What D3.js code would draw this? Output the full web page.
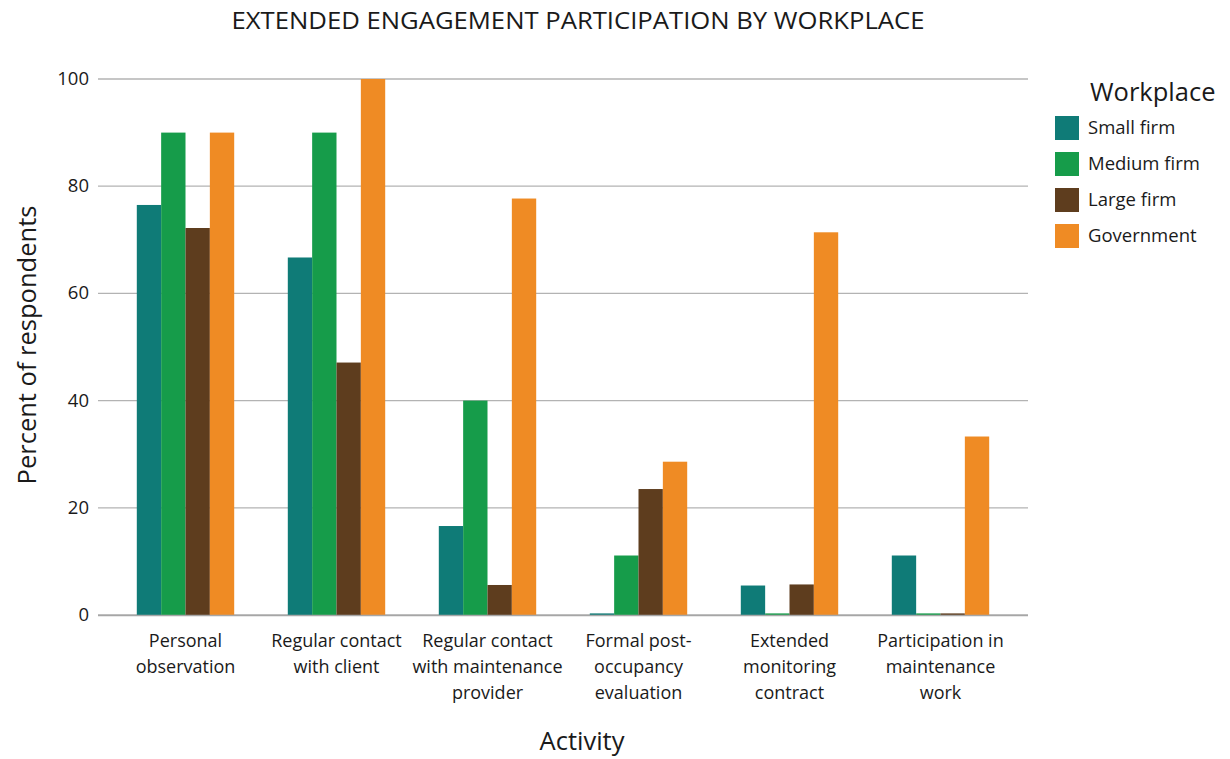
<!DOCTYPE html>
<html><head><meta charset="utf-8">
<script src="https://cdn.jsdelivr.net/npm/d3@7"></script>
<style>body{margin:0;background:#fff}svg{display:block}text{font-family:"Open Sans",sans-serif;fill:#1a1a1a}</style>
</head><body><svg id="c" width="1230" height="759"></svg>
<script>
const categories = [
  ["Personal", "observation"],
  ["Regular contact", "with client"],
  ["Regular contact", "with maintenance", "provider"],
  ["Formal post-", "occupancy", "evaluation"],
  ["Extended", "monitoring", "contract"],
  ["Participation in", "maintenance", "work"]
];
const seriesNames = ["Small firm", "Medium firm", "Large firm", "Government"];
const smallFirm  = [76.5, 66.7, 16.6, 0.3, 5.5, 11.1];
const mediumFirm = [90, 90, 40, 11.1, 0.3, 0.3];
const largeFirm  = [72.2, 47.1, 5.6, 23.5, 5.7, 0.3];
const government = [90, 100, 77.7, 28.6, 71.4, 33.3];
const yTicks = [0, 20, 40, 60, 80, 100];
const colors = ["#0f7b77", "#169c4a", "#5e3d1e", "#ef8b24"];

const series = [smallFirm, mediumFirm, largeFirm, government];
const svg = d3.select("#c");
const x0 = d3.scaleBand().domain(d3.range(categories.length)).range([110, 1016]).padding(0);
const x1 = d3.scaleBand().domain(d3.range(series.length)).range([0, x0.bandwidth() * 0.645]);
const y = d3.scaleLinear().domain([0, 100]).range([615, 79]);

svg.append("g").selectAll("line").data(yTicks).join("line")
  .attr("x1", 98).attr("x2", 1028)
  .attr("y1", d => y(d)).attr("y2", d => y(d))
  .attr("stroke", "#b3b3b3").attr("stroke-width", 1.3);

svg.append("g").selectAll("text").data(yTicks).join("text")
  .attr("x", 89).attr("y", d => y(d) + 6)
  .attr("text-anchor", "end").attr("font-size", 18.5).text(d => d);

const off = (x0.bandwidth() - x1.range()[1]) / 2;
const g = svg.append("g");
series.forEach((vals, si) => {
  g.append("g").selectAll("rect").data(vals).join("rect")
    .attr("x", (d, i) => x0(i) + off + x1(si))
    .attr("width", x1.bandwidth())
    .attr("y", d => y(d))
    .attr("height", d => y(0) - y(d))
    .attr("fill", colors[si]);
});
svg.append("line").attr("x1", 98).attr("x2", 1028).attr("y1", y(0)+0.5).attr("y2", y(0)+0.5)
  .attr("stroke", "#a6a6a6").attr("stroke-width", 1.5);

const cl = svg.append("g");
categories.forEach((lines, i) => {
  const cx = x0(i) + x0.bandwidth() / 2;
  const t = cl.append("text").attr("text-anchor", "middle").attr("font-size", 18)
    .attr("x", cx).attr("y", 647);
  lines.forEach((l, j) => t.append("tspan").attr("x", cx).attr("dy", j === 0 ? 0 : 26).text(l));
});

svg.append("text").attr("x", 578).attr("y", 29).attr("text-anchor", "middle")
  .attr("font-size", 24).attr("textLength", 693).attr("lengthAdjust", "spacingAndGlyphs")
  .text("EXTENDED ENGAGEMENT PARTICIPATION BY WORKPLACE");

svg.append("text").attr("x", 582).attr("y", 750).attr("text-anchor", "middle")
  .attr("font-size", 25.5).text("Activity");
svg.append("text").attr("transform", "translate(36,345) rotate(-90)").attr("text-anchor", "middle")
  .attr("font-size", 25.5).text("Percent of respondents");

const lg = svg.append("g");
lg.append("text").attr("x", 1090).attr("y", 101).attr("font-size", 25.5).text("Workplace");
seriesNames.forEach((n, i) => {
  lg.append("rect").attr("x", 1055).attr("y", 116 + i * 36).attr("width", 24).attr("height", 24).attr("fill", colors[i]);
  lg.append("text").attr("x", 1088).attr("y", 134 + i * 36).attr("font-size", 18.5).text(n);
});
</script></body></html>
